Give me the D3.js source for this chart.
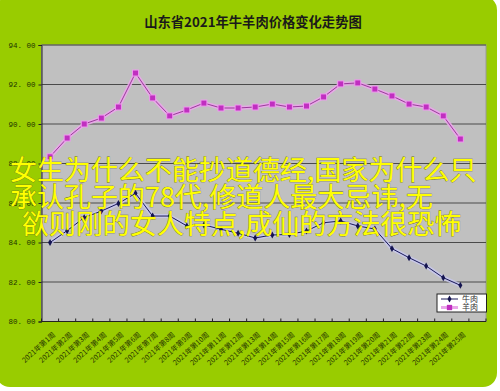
<!DOCTYPE html>
<html>
<head>
<meta charset="utf-8">
<script src="https://cdn.jsdelivr.net/npm/d3@7"></script>
<style>
  body { margin: 0; background: #fff; }
  svg { display: block; }
</style>
</head>
<body>
<script>
var titleText = "山东省2021年牛羊肉价格变化走势图";
var weekLabels = ["2021年第1周", "2021年第2周", "2021年第3周", "2021年第4周", "2021年第5周",
  "2021年第6周", "2021年第7周", "2021年第8周", "2021年第9周", "2021年第10周",
  "2021年第11周", "2021年第12周", "2021年第13周", "2021年第14周", "2021年第15周",
  "2021年第16周", "2021年第17周", "2021年第18周", "2021年第19周", "2021年第20周",
  "2021年第21周", "2021年第22周", "2021年第23周", "2021年第24周", "2021年第25周"];
var slotCount = 26; // axis has one empty slot after week 25
var beefPrices = [84.00, 84.60, 85.26, 85.59, 85.98, 86.49, 85.34, 85.34, 84.84, 84.89,
  84.67, 84.47, 84.23, 84.38, 84.41, 84.58, 85.00, 85.09, 84.84, 84.68,
  83.69, 83.23, 82.81, 82.22, 81.83];
var muttonPrices = [88.34, 89.29, 90.00, 90.30, 90.86, 92.58, 91.32, 90.41, 90.71, 91.06,
  90.81, 90.81, 90.86, 91.01, 90.86, 90.91, 91.37, 92.03, 92.08, 91.77,
  91.42, 91.01, 90.86, 90.41, 89.24];
var seriesNames = ["牛肉", "羊肉"];
var yTickValues = [80, 82, 84, 86, 88, 90, 92, 94];
var overlayLines = ["女生为什么不能抄道德经,国家为什么只",
  "承认孔子的78代,修道人最大忌讳,无",
  "欲则刚的女人特点,成仙的方法很恐怖"];

var W = 500, H = 391;
var plot = { left: 41.5, right: 486, top: 45, bottom: 321.5 };
var font = "'Noto Sans CJK SC', 'Noto Sans', sans-serif";

var svg = d3.select("body").append("svg")
    .attr("width", W)
    .attr("height", H);

// lime chart background with rounded corners
svg.append("rect")
    .attr("x", -4).attr("y", -4)
    .attr("width", 501).attr("height", 391)
    .attr("rx", 14)
    .attr("fill", "#99cc00");

svg.append("text")
    .attr("x", 253).attr("y", 27)
    .attr("text-anchor", "middle")
    .attr("font-family", font)
    .attr("font-weight", "bold")
    .attr("font-size", 13.3)
    .attr("fill", "#1a1a1a")
    .text(titleText);

var x = d3.scaleBand()
    .domain(d3.range(slotCount))
    .range([plot.left, plot.right]);
var y = d3.scaleLinear()
    .domain([80, 94])
    .range([plot.bottom, plot.top]);

svg.append("rect")
    .attr("x", plot.left).attr("y", plot.top)
    .attr("width", plot.right - plot.left)
    .attr("height", plot.bottom - plot.top)
    .attr("fill", "#c0c0c0")
    .attr("stroke", "#9a9a9a")
    .attr("stroke-width", 1);

// gridlines
svg.append("g")
    .selectAll("line")
    .data(yTickValues.filter(v => v > 80))
    .enter().append("line")
    .attr("x1", plot.left).attr("x2", plot.right)
    .attr("y1", d => y(d)).attr("y2", d => y(d))
    .attr("stroke", "#4a4a4a")
    .attr("stroke-width", 1);

// y axis
var yAxis = svg.append("g")
    .attr("transform", "translate(" + plot.left + ",0)")
    .call(d3.axisLeft(y).tickValues(yTickValues).tickSize(3).tickPadding(3)
        .tickFormat(d => d3.format(".2f")(d).replace(".", ". ")));
yAxis.select(".domain").attr("stroke", "#222");
yAxis.selectAll(".tick line").attr("stroke", "#222");
yAxis.selectAll("text")
    .attr("font-family", "'Liberation Mono', 'DejaVu Sans Mono', monospace")
    .attr("font-size", 7.5)
    .attr("fill", "#223300");

// x axis: ticks at category boundaries, pointing up
var bounds = d3.range(slotCount).map(i => x(i)).concat([x.range()[1]]);
svg.append("line")
    .attr("x1", plot.left).attr("x2", plot.right)
    .attr("y1", plot.bottom).attr("y2", plot.bottom)
    .attr("stroke", "#222");
svg.append("g")
    .selectAll("line")
    .data(bounds)
    .enter().append("line")
    .attr("x1", d => d).attr("x2", d => d)
    .attr("y1", plot.bottom).attr("y2", plot.bottom - 3)
    .attr("stroke", "#222");

svg.append("g")
    .selectAll("text")
    .data(weekLabels)
    .enter().append("text")
    .attr("transform", (d, i) => "translate(" + (x(i) + x.bandwidth() / 2 + 4) + "," + (plot.bottom + 12) + ") rotate(-42)")
    .attr("text-anchor", "end")
    .attr("dy", "0.35em")
    .attr("font-family", font)
    .attr("font-size", 7.2)
    .attr("fill", "#263400")
    .text(d => d);

var cx = (d, i) => x(i) + x.bandwidth() / 2;
var line = d3.line().x(cx).y(d => y(d));

// 牛肉
svg.append("path").datum(beefPrices)
    .attr("d", line).attr("fill", "none")
    .attr("stroke", "#c8c8f0").attr("stroke-width", 4).attr("opacity", 0.8);
svg.append("path").datum(beefPrices)
    .attr("d", line).attr("fill", "none")
    .attr("stroke", "#1a1a5a").attr("stroke-width", 1);
svg.append("g").selectAll("path")
    .data(beefPrices)
    .enter().append("path")
    .attr("transform", (d, i) => "translate(" + cx(d, i) + "," + y(d) + ")")
    .attr("d", d3.symbol().type(d3.symbolDiamond).size(14))
    .attr("fill", "#141450");

// 羊肉
svg.append("path").datum(muttonPrices)
    .attr("d", line).attr("fill", "none")
    .attr("stroke", "#eaa6ea").attr("stroke-width", 4).attr("opacity", 0.9);
svg.append("path").datum(muttonPrices)
    .attr("d", line).attr("fill", "none")
    .attr("stroke", "#9a3a9a").attr("stroke-width", 1);
svg.append("g").selectAll("rect")
    .data(muttonPrices)
    .enter().append("rect")
    .attr("x", (d, i) => cx(d, i) - 3)
    .attr("y", d => y(d) - 3)
    .attr("width", 6).attr("height", 6)
    .attr("fill", "#c02fc0")
    .attr("stroke", "#ee99ee")
    .attr("stroke-width", 1);

// legend
var legend = svg.append("g").attr("transform", "translate(437,294)");
legend.append("rect")
    .attr("width", 49.5).attr("height", 18)
    .attr("fill", "#ffffff")
    .attr("stroke", "#222").attr("stroke-width", 1);
var entry = legend.selectAll("g.entry")
    .data(seriesNames)
    .enter().append("g")
    .attr("class", "entry")
    .attr("transform", (d, i) => "translate(0," + (5 + i * 8.5) + ")");
entry.append("line")
    .attr("x1", 4).attr("x2", 21)
    .attr("stroke", (d, i) => i === 0 ? "#1a1a5a" : "#eaa6ea")
    .attr("stroke-width", (d, i) => i === 0 ? 1 : 3);
entry.append("path")
    .attr("transform", "translate(12.5,0)")
    .attr("d", (d, i) => d3.symbol().type(i === 0 ? d3.symbolDiamond : d3.symbolSquare).size(i === 0 ? 14 : 28)())
    .attr("fill", (d, i) => i === 0 ? "#141450" : "#c02fc0");
entry.append("text")
    .attr("x", 25).attr("dy", "0.35em")
    .attr("font-family", font)
    .attr("font-size", 8)
    .attr("fill", "#333")
    .text(d => d);

// overlaid caption text
var overlayX = [10, 10, 22];
svg.append("g")
    .selectAll("text")
    .data(overlayLines)
    .enter().append("text")
    .attr("x", (d, i) => overlayX[i])
    .attr("y", (d, i) => 180 + i * 27)
    .attr("font-family", font)
    .attr("font-size", 27)
    .attr("fill", "#ffff00")
    .attr("stroke", "#6b6b20")
    .attr("stroke-width", 0.6)
    .attr("paint-order", "stroke")
    .text(d => d);
</script>
</body>
</html>
